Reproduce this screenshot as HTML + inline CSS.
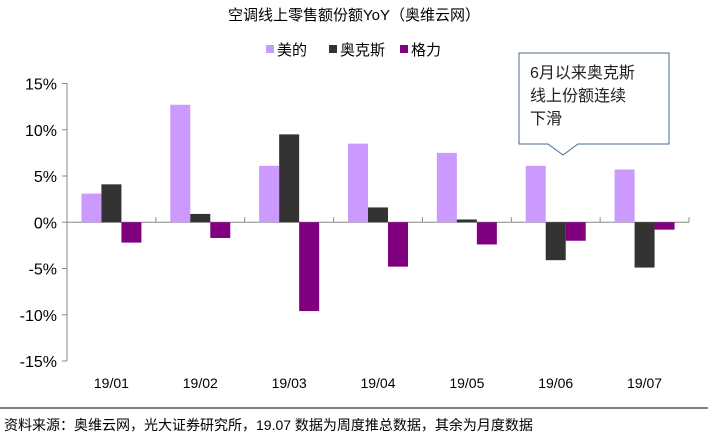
<!DOCTYPE html>
<html><head><meta charset="utf-8"><style>
body{margin:0;width:708px;height:439px;background:#fff;overflow:hidden;font-family:"Liberation Sans","Noto Sans CJK SC",sans-serif}
</style></head><body>
<svg width="708" height="439" style="position:absolute;left:0;top:0">
<text x="354" y="20" text-anchor="middle" font-size="15" fill="#000">空调线上零售额份额YoY（奥维云网）</text>
<g id="legend"></g>
<g id="axes"></g><g id="bars"></g>
<g>
<path d="M519,53 H669 V144 H578 L563,155 L548,144 H519 Z" fill="#fff" stroke="#4a6a8a" stroke-width="1"/>
<text x="530" y="78" font-size="16" fill="#222">6月以来奥克斯</text>
<text x="530" y="101" font-size="16" fill="#222">线上份额连续</text>
<text x="530" y="124" font-size="16" fill="#222">下滑</text>
</g>
<line x1="0" y1="408" x2="708" y2="408" stroke="#000" stroke-width="1"/>
<text x="4" y="430" font-size="14" fill="#000">资料来源：奥维云网，光大证券研究所，19.07 数据为周度推总数据，其余为月度数据</text>
</svg>
<script>
const categories=["19/01","19/02","19/03","19/04","19/05","19/06","19/07"];
const midea=[3.1,12.7,6.1,8.5,7.5,6.1,5.7];
const aux=[4.1,0.9,9.5,1.6,0.3,-4.1,-4.9];
const gree=[-2.2,-1.7,-9.6,-4.8,-2.4,-2.0,-0.8];
const ticks=[15,10,5,0,-5,-10,-15];
const seriesNames=["美的","奥克斯","格力"];
const colors=["#CC99FF","#333333","#800080"];
const NS="http://www.w3.org/2000/svg";
const x0=67,x1=689,yTop=83.5,yBot=361,vmax=15,vmin=-15;
const y=v=>yTop+(vmax-v)/(vmax-vmin)*(yBot-yTop);
const cw=(x1-x0)/categories.length;
function mk(tag,attrs,parent){const e=document.createElementNS(NS,tag);for(const k in attrs)e.setAttribute(k,attrs[k]);parent.appendChild(e);return e;}
const ax=document.getElementById('axes');
let l=mk('line',{x1:x0,y1:yTop,x2:x0,y2:yBot,stroke:'#888'},ax);


ticks.forEach(t=>{
 mk('line',{x1:x0-5,y1:y(t),x2:x0,y2:y(t),stroke:'#888'},ax);
 const tx=mk('text',{x:x0-10,y:y(t)+6,'text-anchor':'end','font-size':'16',fill:'#000'},ax);
 tx.textContent=t+'%';
 
 
});
l=mk('line',{x1:x0,y1:y(0),x2:x1,y2:y(0),stroke:'#888'},ax);


categories.forEach((c,i)=>{
 const xt=x0+cw*(i+1);
 mk('line',{x1:xt,y1:y(0)-5,x2:xt,y2:y(0),stroke:'#888'},ax);
 const tx=mk('text',{x:x0+cw*(i+0.5),y:388,'text-anchor':'middle','font-size':'14',fill:'#000'},ax);
 tx.textContent=c;
 
 
});
const bg=document.getElementById('bars');
const series=[midea,aux,gree];
const bw=20;
series.forEach((s,si)=>{
 s.forEach((v,i)=>{
  const cx=x0+cw*(i+0.5);
  const bx=cx-30+si*bw;
  const r=mk('rect',{x:bx,y:Math.min(y(v),y(0)),width:bw,height:Math.abs(y(v)-y(0)),fill:colors[si]},bg);
  
  
 });
});
const lg=document.getElementById('legend');
const lx=[266,329,400];
seriesNames.forEach((n,i)=>{
 const r=mk('rect',{x:lx[i],y:45,width:8,height:8,fill:colors[i]},lg);
 
 
 const t=mk('text',{x:lx[i]+11,y:55,'font-size':'15',fill:'#000'},lg);
 t.textContent=n;
 
 
});
</script>
</body></html>
